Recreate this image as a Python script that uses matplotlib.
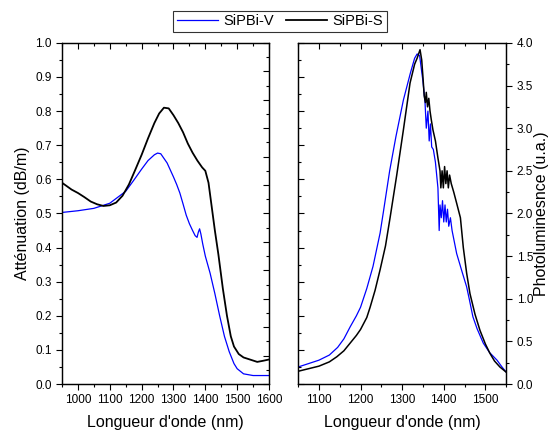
import matplotlib
matplotlib.use("Agg")
import matplotlib.pyplot as plt
from matplotlib.ticker import MultipleLocator, FormatStrFormatter

plt.rcParams['font.family'] = ['Liberation Sans', 'DejaVu Sans']

# Attenuation (left panel)
att_wl_v = [950, 1000, 1050, 1100, 1150, 1175, 1200, 1220, 1240, 1250, 1260, 1280, 1300,
            1310, 1320, 1330, 1340, 1350, 1360, 1368, 1374, 1378, 1382, 1386, 1392, 1400,
            1415, 1430, 1445, 1460, 1475, 1490, 1500, 1520, 1550, 1600]
att_v = [0.503, 0.508, 0.515, 0.53, 0.565, 0.597, 0.63, 0.655, 0.672, 0.677, 0.675, 0.648,
         0.607, 0.585, 0.56, 0.528, 0.495, 0.47, 0.45, 0.435, 0.43, 0.445, 0.455, 0.44, 0.41,
         0.375, 0.325, 0.265, 0.2, 0.14, 0.095, 0.06, 0.045, 0.03, 0.025, 0.025]

att_wl_s = [950, 965, 980, 1000, 1020, 1040, 1060, 1080, 1100, 1120, 1140, 1160, 1180, 1200,
            1220, 1240, 1255, 1270, 1285, 1300, 1315, 1330, 1345, 1360, 1375, 1390, 1400,
            1410, 1420, 1430, 1441, 1455, 1468, 1480, 1490, 1505, 1520, 1540, 1563, 1580, 1600]
att_s = [0.59, 0.58, 0.57, 0.56, 0.548, 0.535, 0.527, 0.522, 0.524, 0.532, 0.552, 0.585,
         0.628, 0.672, 0.72, 0.765, 0.793, 0.81, 0.808, 0.788, 0.765, 0.738, 0.705, 0.678,
         0.655, 0.635, 0.625, 0.59, 0.52, 0.45, 0.38, 0.28, 0.2, 0.14, 0.11, 0.088, 0.078,
         0.072, 0.065, 0.068, 0.072]

# Photoluminescence (right panel)
pl_wl_v = [1050, 1075, 1100, 1125, 1145, 1160, 1175, 1190, 1200, 1215, 1230, 1247, 1255, 1270,
           1285, 1303, 1320, 1330, 1336, 1342, 1350, 1355, 1358, 1362, 1365, 1368, 1371, 1375,
           1380, 1386, 1389, 1391, 1394, 1397, 1400, 1403, 1406, 1409, 1412, 1416, 1420, 1431,
           1445, 1455, 1462, 1470, 1480, 1495, 1510, 1528, 1540, 1550]
pl_v = [0.2, 0.24, 0.28, 0.34, 0.43, 0.53, 0.67, 0.8, 0.9, 1.12, 1.38, 1.77, 2.02, 2.5,
        2.9, 3.33, 3.65, 3.82, 3.87, 3.85, 3.55, 3.3, 3.0, 3.2, 2.85, 3.05, 2.78, 2.75,
        2.6, 2.3, 1.8, 2.1, 1.95, 2.15, 1.9, 2.1, 1.9, 2.05, 1.85, 1.95, 1.8, 1.53,
        1.3, 1.14, 0.98, 0.79, 0.65, 0.48, 0.37, 0.28, 0.2, 0.14]

pl_wl_s = [1050, 1075, 1100, 1125, 1143, 1160, 1175, 1190, 1200, 1215, 1223, 1235, 1247, 1260,
           1271, 1287, 1303, 1319, 1330, 1336, 1343, 1347, 1350, 1353, 1356, 1358, 1361, 1364,
           1367, 1370, 1374, 1380, 1386, 1391, 1393, 1396, 1399, 1402, 1405, 1408, 1411, 1414,
           1418, 1424, 1431, 1440, 1447, 1455, 1463, 1475, 1487, 1500, 1511, 1522, 1535, 1550]
pl_s = [0.15, 0.18, 0.21, 0.26, 0.32, 0.39, 0.48, 0.57, 0.64, 0.78, 0.9, 1.1, 1.34, 1.62,
        1.95, 2.45, 2.98, 3.53, 3.75, 3.82, 3.92, 3.8, 3.6, 3.38, 3.3, 3.42, 3.25, 3.35,
        3.2, 3.1, 2.98, 2.85, 2.65, 2.5, 2.3, 2.5, 2.3, 2.55, 2.35, 2.5, 2.3, 2.45,
        2.35, 2.25, 2.12, 1.95, 1.6, 1.3, 1.06, 0.82, 0.63, 0.47, 0.36, 0.27, 0.2, 0.14]

blue = '#0000ff'

fig = plt.figure(figsize=(5.49, 4.33), dpi=100)
ax1 = fig.add_axes([0.113, 0.113, 0.377, 0.788])
ax2 = fig.add_axes([0.543, 0.113, 0.379, 0.788])

# twins only carry the mirrored inward ticks on the opposite spines
tx1, ty1 = ax1.twiny(), ax1.twinx()
tx2, ty2 = ax2.twiny(), ax2.twinx()

l1, = ax1.plot(att_wl_v, att_v, color=blue, lw=0.9, label='SiPBi-V')
l2, = ax1.plot(att_wl_s, att_s, color='black', lw=1.3, label='SiPBi-S')
ax2.plot(pl_wl_v, pl_v, color=blue, lw=0.9)
ax2.plot(pl_wl_s, pl_s, color='black', lw=1.1)

ax1.set_xlim(950, 1600)
ax1.set_ylim(0, 1.0)
ax1.set_xticks(range(1000, 1601, 100))
ax1.xaxis.set_minor_locator(MultipleLocator(50))
ax1.yaxis.set_major_locator(MultipleLocator(0.1))
ax1.yaxis.set_minor_locator(MultipleLocator(0.05))
ax1.yaxis.set_major_formatter(FormatStrFormatter('%.1f'))
ax1.yaxis.tick_left()
ax1.set_xlabel("Longueur d'onde (nm)", fontsize=11.5, labelpad=6)
ax1.set_ylabel("Atténuation (dB/m)", fontsize=11.5, labelpad=4)

ax2.set_xlim(1050, 1550)
ax2.set_ylim(0, 4.0)
ax2.set_xticks(range(1100, 1501, 100))
ax2.xaxis.set_minor_locator(MultipleLocator(50))
ax2.yaxis.set_major_locator(MultipleLocator(0.5))
ax2.yaxis.set_minor_locator(MultipleLocator(0.25))
ax2.yaxis.set_major_formatter(FormatStrFormatter('%.1f'))
ax2.yaxis.tick_right()
ax2.yaxis.set_label_position('right')
ax2.set_xlabel("Longueur d'onde (nm)", fontsize=11.5, labelpad=6)
ax2.set_ylabel("Photoluminesnce (u.a.)", fontsize=11.5, labelpad=1)

for ax in (ax1, ax2):
    ax.tick_params(which='both', direction='out', labelsize=8.5, width=0.8)
    ax.tick_params(which='major', length=4)
    ax.tick_params(which='minor', length=2.5)
    for s in ax.spines.values():
        s.set_linewidth(0.9)

for ax, tx, ty, side in ((ax1, tx1, ty1, 'right'), (ax2, tx2, ty2, 'left')):
    tx.set_xlim(ax.get_xlim())
    tx.set_xticks(ax.get_xticks())
    tx.xaxis.set_minor_locator(MultipleLocator(50))
    tx.tick_params(which='both', direction='in', labeltop=False, width=0.8)
    tx.tick_params(which='major', length=4)
    tx.tick_params(which='minor', length=2.5)
    ty.set_ylim(ax.get_ylim())
    ty.set_yticks(ax.get_yticks())
    ty.yaxis.set_minor_locator(ax.yaxis.get_minor_locator())
    if side == 'left':
        ty.yaxis.tick_left()
    else:
        ty.yaxis.tick_right()
    ty.tick_params(which='both', direction='in', labelleft=False, labelright=False, width=0.8)
    ty.tick_params(which='major', length=4)
    ty.tick_params(which='minor', length=2.5)

leg = fig.legend(handles=[l1, l2], loc='upper center', bbox_to_anchor=(0.51, 0.975), ncol=2,
                 fontsize=10.5, frameon=True, fancybox=False, edgecolor='black',
                 handlelength=2.8, columnspacing=0.8, handletextpad=0.4,
                 borderpad=0.25, borderaxespad=0)
leg.get_frame().set_linewidth(0.8)

fig.savefig('out.png', dpi=100)
